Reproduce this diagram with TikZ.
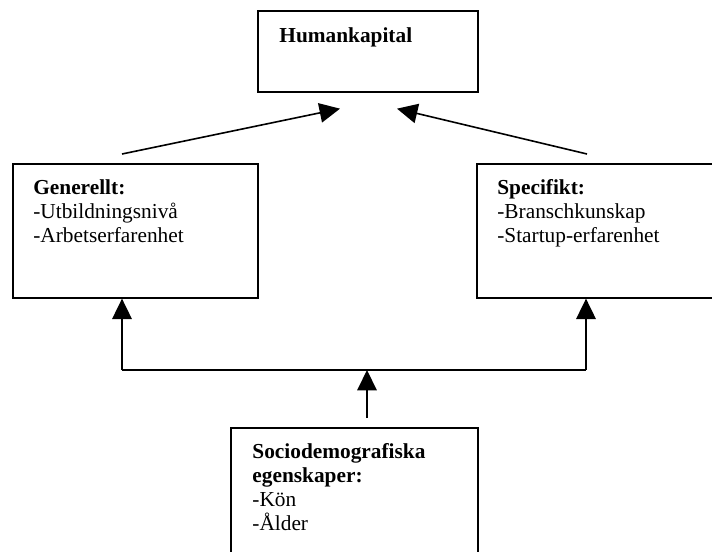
\documentclass[tikz,border=0pt]{standalone}
\usepackage{fontspec}
\setmainfont{Liberation Serif}
\usetikzlibrary{calc,arrows.meta,positioning}
\tikzset{
block/.style={
  rectangle,
  draw,
  line width=0.9pt,
  anchor=north west,
  inner sep=0pt},
txt/.style={
  anchor=north west,
  inner sep=0pt,
  align=left,
  font=\fontsize{12}{13.5}\selectfont},
line/.style={draw, line width=0.9pt, -{Triangle[length=11.5pt,width=11pt]}},
edge/.style={draw, line width=0.9pt}
}

\begin{document}
\begin{tikzpicture}[x=0.5625pt,y=-0.5625pt]
    \clip (0,0) rectangle (712,551);
    \node [block, minimum width=123.75pt, minimum height=45.6pt] (hk) at (257,10) {};
    \node [block, minimum width=137.8pt, minimum height=75.4pt] (gen) at (12,163) {};
    \node [block, minimum width=150pt, minimum height=75.4pt] (spec) at (476,163) {};
    \node [block, minimum width=138.9pt, minimum height=90pt] (soc) at (230,427) {};
    \node [txt, below right=9.6pt and 12.4pt of hk.north west] (hk_txt) {\textbf{Humankapital}};
    \node [txt, below right=9.3pt and 11.8pt of gen.north west] (gen_txt) {\textbf{Generellt:}\\-Utbildningsnivå\\-Arbetserfarenhet};
    \node [txt, below right=9.3pt and 11.8pt of spec.north west] (spec_txt) {\textbf{Specifikt:}\\-Branschkunskap\\-Startup-erfarenhet};
    \node [txt, below right=8.9pt and 12.4pt of soc.north west] (soc_txt) {\textbf{Sociodemografiska}\\\textbf{egenskaper:}\\-Kön\\-Ålder};
    \coordinate (jl) at (122,370);
    \coordinate (jr) at (586,370);
    \coordinate (jm) at (367,370);
    \path [line] ($(gen.north west)+(110,-9)$) -- ($(hk.south west)+(83,16)$);
    \path [line] ($(spec.north west)+(111,-9)$) -- ($(hk.south west)+(140,16)$);
    \path [edge] (jl) -- (jr);
    \path [line] (jl) -- (jl |- gen.south);
    \path [line] (jr) -- (jr |- spec.south);
    \path [line] ($(soc.north west)+(137,-9)$) -- (jm);
\end{tikzpicture}
\end{document}
